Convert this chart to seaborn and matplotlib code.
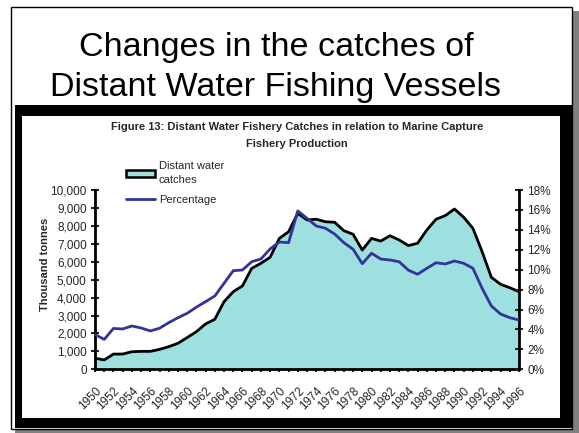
import matplotlib
matplotlib.use("Agg")
import matplotlib.pyplot as plt
import matplotlib.transforms as mtransforms
import seaborn as sns
import pandas as pd
import numpy as np
from matplotlib.patches import Rectangle, Patch
from matplotlib.lines import Line2D
from matplotlib.ticker import FuncFormatter

years = list(range(1950, 1997))
catches = [620, 520, 850, 850, 980, 1000, 1000, 1110, 1260, 1450, 1770, 2100, 2530, 2790,
           3770, 4330, 4650, 5630, 5910, 6250, 7300, 7670, 8700, 8330, 8370, 8230, 8200,
           7730, 7530, 6650, 7300, 7150, 7450, 7210, 6900, 7030, 7770, 8370, 8570, 8940,
           8480, 7860, 6560, 5130, 4740, 4550, 4330]
percentage = [3.5, 3.0, 4.1, 4.05, 4.35, 4.15, 3.85, 4.12, 4.68, 5.18, 5.62, 6.24, 6.79, 7.36,
              8.63, 9.9, 9.97, 10.8, 11.07, 12.08, 12.78, 12.71, 15.9, 15.16, 14.39, 14.16,
              13.58, 12.71, 12.05, 10.6, 11.65, 11.07, 10.97, 10.8, 9.95, 9.54, 10.14, 10.7,
              10.57, 10.87, 10.64, 10.14, 8.13, 6.36, 5.55, 5.18, 4.95]
left_ticks = list(range(0, 10001, 1000))
right_ticks = list(range(0, 19, 2))
year_labels = [str(y) if y % 2 == 0 else "" for y in years]

df = pd.DataFrame({"Year": years, "Catches": catches, "Percentage": percentage})

sns.set_theme(style="white")
plt.rcParams['font.family'] = ['Liberation Sans', 'DejaVu Sans']

W, H = 579, 433
fig = plt.figure(figsize=(W / 100, H / 100), dpi=100)
fig.patch.set_facecolor("white")

def px_rect(x0, y0, x1, y1, **kw):
    r = Rectangle((x0 / W, 1 - y1 / H), (x1 - x0) / W, (y1 - y0) / H,
                  transform=fig.transFigure, **kw)
    fig.add_artist(r)
    return r

# frame / slide decorations
px_rect(15, 11, 579, 433, facecolor="#808080", edgecolor="none", zorder=-3)
px_rect(11, 7, 572, 429, facecolor="white", edgecolor="black", linewidth=1, zorder=-2.5)
px_rect(15, 105, 572, 428, facecolor="black", edgecolor="none", zorder=-2)
px_rect(22, 116, 560, 418, facecolor="white", edgecolor="none", zorder=-1.5)

fig.text(276 / W, 1 - 56 / H, "Changes in the catches of",
         ha="center", va="baseline", fontsize=24.5, color="black")
fig.text(276 / W, 1 - 96 / H, "Distant Water Fishing Vessels",
         ha="center", va="baseline", fontsize=24.5, color="black")

fig.text(297 / W, 1 - 127 / H,
         "Figure 13: Distant Water Fishery Catches in relation to Marine Capture",
         ha="center", va="center", fontsize=8, fontweight="bold")
fig.text(297 / W, 1 - 144 / H, "Fishery Production",
         ha="center", va="center", fontsize=8, fontweight="bold")

ax = fig.add_axes([95 / W, 1 - 369.3 / H, (519 - 95) / W, (369.3 - 190) / H])
ax.set_zorder(5)
ax.set_facecolor("none")
fill_color = "#9EE0E0"
ax.fill_between(df["Year"], 0, df["Catches"], color=fill_color, linewidth=0, zorder=1)
sns.lineplot(data=df, x="Year", y="Catches", ax=ax, color="black", linewidth=2, zorder=2)
ax.set_xlim(1950, 1996)
ax.set_ylim(0, 10000)
ax.set_yticks(left_ticks)
ax.yaxis.set_major_formatter(FuncFormatter(lambda v, p: f"{int(v):,}"))
ax.set_xticks(years)
ax.set_xticklabels(year_labels, rotation=45, ha="right", rotation_mode="anchor", fontsize=8.5)
shift = mtransforms.ScaledTranslation(-4 / 100, 0, fig.dpi_scale_trans)
for lbl in ax.get_xticklabels():
    lbl.set_transform(lbl.get_transform() + shift)
ax.set_xlabel("")
ax.set_ylabel("")
ax.tick_params(axis="y", labelsize=8.5, direction="inout", length=6, width=1.5, pad=3, left=True)
ax.tick_params(axis="x", direction="inout", length=5, width=1.5, pad=9, bottom=True)

ax2 = ax.twinx()
ax2.set_zorder(6)
ax2.set_facecolor("none")
sns.lineplot(data=df, x="Year", y="Percentage", ax=ax2, color="#333399", linewidth=2, zorder=3)
ax2.set_ylim(0, 18)
ax2.set_yticks(right_ticks)
ax2.yaxis.set_major_formatter(FuncFormatter(lambda v, p: f"{int(v)}%"))
ax2.set_ylabel("")
ax2.tick_params(axis="y", labelsize=8.5, direction="inout", length=6, width=1.5, pad=3, right=True)

for a in (ax, ax2):
    a.spines["top"].set_visible(False)
    for s in ("left", "right", "bottom"):
        a.spines[s].set_color("black")
        a.spines[s].set_linewidth(2)
ax.spines["right"].set_visible(False)
ax2.spines["left"].set_visible(False)
ax2.spines["bottom"].set_visible(False)

fig.text(45 / W, 1 - 264 / H, "Thousand tonnes", rotation=90, ha="center", va="center",
         fontsize=8, fontweight="bold")

handles = [Patch(facecolor=fill_color, edgecolor="black", linewidth=1.8),
           Line2D([0], [0], color="#333399", linewidth=2)]
leg = fig.legend(handles, ["Distant water\ncatches", "Percentage"], loc="upper left",
                 bbox_to_anchor=(122 / W, 1 - 157 / H), frameon=False, fontsize=8,
                 handlelength=2.6, handleheight=0.6, handletextpad=0.3, labelspacing=0.9,
                 borderaxespad=0)
for t in leg.get_texts():
    t.set_linespacing(1.45)

fig.savefig("out.png", dpi=100, facecolor="white")
